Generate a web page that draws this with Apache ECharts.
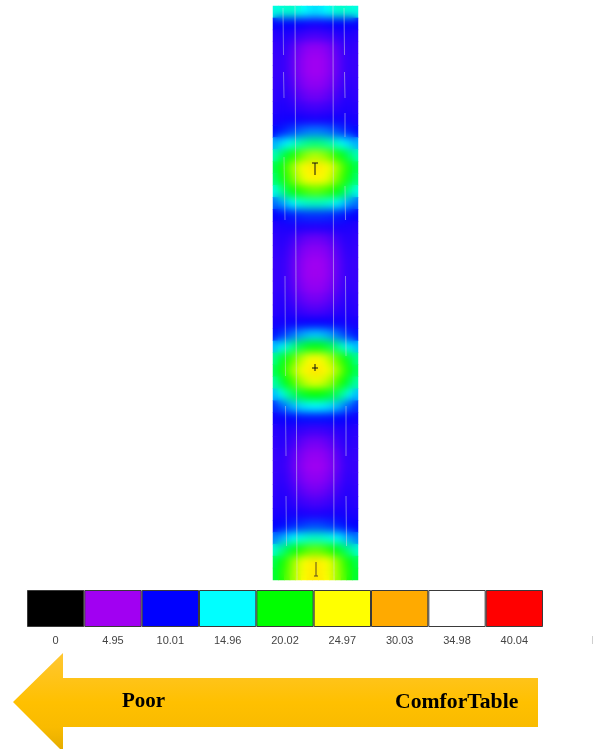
<!DOCTYPE html>
<html>
<head>
<meta charset="utf-8">
<style>html,body{margin:0;padding:0;background:#fff}#c{width:594px;height:749px}</style>
<script src="https://cdn.jsdelivr.net/npm/echarts@6/dist/echarts.min.js"></script>
</head>
<body>
<div id="c"></div>
<script>
// Colour scale legend
const scaleLabels = ['0','4.95','10.01','14.96','20.02','24.97','30.03','34.98','40.04'];
const scaleColors = ['#000000','#A100F2','#0000FF','#00FFFF','#00FF00','#FFFF00','#FFAA00','#FFFFFF','#FF0000'];
const scaleMax = 40.04;
const arrowLabels = ['Poor','ComforTable'];

// Field values, one row every 12 units down the strip, 15 columns across it
const field = [
[15.6,15.8,16,16,15.6,15,14.6,14.4,14.6,15,15.6,16,16,15.8,15.6],
[9.8,9.9,10,10,9.9,9.7,9.5,9.4,9.5,9.7,9.9,10,10,9.9,9.8],
[8.7,9,9,8.6,8.3,8,7.8,7.7,7.8,8,8.3,8.6,9,9,8.7],
[8.3,8.7,8.2,7.4,6.6,6,5.6,5.5,5.6,6,6.6,7.4,8.2,8.7,8.3],
[8.2,8.5,8,7,6.2,5.5,5.1,5,5.1,5.5,6.2,7,8,8.5,8.2],
[8.2,8.5,8,7,6.2,5.5,5.1,5,5.1,5.5,6.2,7,8,8.5,8.2],
[8.3,8.7,8.2,7.4,6.6,6,5.6,5.5,5.6,6,6.6,7.4,8.2,8.7,8.3],
[8.5,8.9,8.6,8,7.4,6.9,6.5,6.4,6.5,6.9,7.4,8,8.6,8.9,8.5],
[8.8,9.1,9,8.7,8.4,8.2,8,7.9,8,8.2,8.4,8.7,9,9.1,8.8],
[9.2,9.4,9.5,9.5,9.5,9.4,9.3,9.3,9.3,9.4,9.5,9.5,9.5,9.4,9.2],
[10.2,10.6,11,11.4,11.8,12.2,12.4,12.5,12.4,12.2,11.8,11.4,11,10.6,10.2],
[13.5,14.2,15,15.8,16.4,17,17.4,17.6,17.4,17,16.4,15.8,15,14.2,13.5],
[16.5,18,19.3,20.5,21.5,22.5,23.2,23.5,23.2,22.5,21.5,20.5,19.3,18,16.5],
[18.5,20.2,21.6,23,24.3,25.3,26,26.5,26,25.3,24.3,23,21.6,20.2,18.5],
[17.8,19.5,21,22.3,23.6,24.6,25.3,25.6,25.3,24.6,23.6,22.3,21,19.5,17.8],
[15.5,17,18.6,19.8,20.6,21.2,21.6,21.8,21.6,21.2,20.6,19.8,18.6,17,15.5],
[12.2,13,14,15,15.6,16,16.2,16.3,16.2,16,15.6,15,14,13,12.2],
[9.8,10.1,10.4,10.6,10.8,10.9,11,11,11,10.9,10.8,10.6,10.4,10.1,9.8],
[8.9,9.1,9.2,9.2,9.1,9,9,8.9,9,9,9.1,9.2,9.2,9.1,8.9],
[8.5,8.9,8.6,8.1,7.5,7,6.7,6.5,6.7,7,7.5,8.1,8.6,8.9,8.5],
[8.3,8.7,8.2,7.4,6.6,6,5.7,5.6,5.7,6,6.6,7.4,8.2,8.7,8.3],
[8.2,8.5,8,7,6.2,5.5,5.1,5,5.1,5.5,6.2,7,8,8.5,8.2],
[8.2,8.5,8,7,6.2,5.4,5.1,4.9,5.1,5.4,6.2,7,8,8.5,8.2],
[8.3,8.6,8.1,7.3,6.5,5.9,5.5,5.4,5.5,5.9,6.5,7.3,8.1,8.6,8.3],
[8.5,8.9,8.5,7.9,7.3,6.8,6.4,6.3,6.4,6.8,7.3,7.9,8.5,8.9,8.5],
[8.7,9,9,8.6,8.3,8,7.7,7.6,7.7,8,8.3,8.6,9,9,8.7],
[9.3,9.4,9.5,9.6,9.7,9.7,9.8,9.8,9.8,9.7,9.7,9.6,9.5,9.4,9.3],
[10.4,10.9,11.5,12.2,12.9,13.4,13.8,14,13.8,13.4,12.9,12.2,11.5,10.9,10.4],
[13.8,14.8,16,17.2,18.2,19,19.5,19.7,19.5,19,18.2,17.2,16,14.8,13.8],
[17.3,19,20.5,21.8,23,24,25,25.5,25,24,23,21.8,20.5,19,17.3],
[18.3,20,21.6,23,24.2,25.3,26,26.5,26,25.3,24.2,23,21.6,20,18.3],
[16.8,18.4,20,21.4,22.6,23.6,24.3,24.6,24.3,23.6,22.6,21.4,20,18.4,16.8],
[13.8,15.2,16.8,18,18.8,19.4,19.8,20,19.8,19.4,18.8,18,16.8,15.2,13.8],
[11,11.8,12.8,13.6,14.2,14.6,14.8,15,14.8,14.6,14.2,13.6,12.8,11.8,11],
[9.5,9.7,9.9,10.1,10.2,10.3,10.3,10.3,10.3,10.3,10.2,10.1,9.9,9.7,9.5],
[8.7,9,9,8.7,8.5,8.3,8.1,8,8.1,8.3,8.5,8.7,9,9,8.7],
[8.5,8.9,8.6,8,7.4,6.9,6.5,6.4,6.5,6.9,7.4,8,8.6,8.9,8.5],
[8.3,8.6,8.1,7.3,6.5,5.9,5.5,5.4,5.5,5.9,6.5,7.3,8.1,8.6,8.3],
[8.2,8.5,8,7,6.2,5.5,5.1,5,5.1,5.5,6.2,7,8,8.5,8.2],
[8.3,8.7,8.2,7.4,6.6,6,5.6,5.5,5.6,6,6.6,7.4,8.2,8.7,8.3],
[8.5,8.9,8.6,8,7.4,6.9,6.5,6.3,6.5,6.9,7.4,8,8.6,8.9,8.5],
[8.7,9,9,8.6,8.3,8,7.8,7.6,7.8,8,8.3,8.6,9,9,8.7],
[9.1,9.3,9.4,9.4,9.3,9.2,9.1,9,9.1,9.2,9.3,9.4,9.4,9.3,9.1],
[9.9,10.1,10.4,10.7,11,11.2,11.4,11.5,11.4,11.2,11,10.7,10.4,10.1,9.9],
[12.5,13.2,14,15,15.4,15.8,16.1,16.2,16.1,15.8,15.4,15,14,13.2,12.5],
[16,17.2,18.4,19.5,20.4,21.2,21.7,22,21.7,21.2,20.4,19.5,18.4,17.2,16],
[18.5,20,21.4,22.8,24,25,25.8,26.2,25.8,25,24,22.8,21.4,20,18.5],
[19,20.4,21.8,23,24.2,25.2,26,26.4,26,25.2,24.2,23,21.8,20.4,19]
];

// Pale streaks across the strip: [across, along]; null breaks a streak
const streakInnerLeft  = [[22,0],[24,574]];
const streakInnerRight = [[60,0],[61,574]];
const streakOuterLeft  = [[10,2],[10.5,49],null,[10.5,66],[11,92],null,[11,151],[12,214],null,[12,270],[12.5,370],null,[12.5,400],[13,450],null,[13,490],[13.5,540]];
const streakOuterRight = [[71,2],[71.5,49],null,[71.5,66],[72,92],null,[72,107],[72,131],null,[72,180],[72.5,214],null,[72.5,270],[73,350],null,[73,400],[73,450],null,[73,490],[73.5,540]];

// Small dark marks at the three bright centres
const markTop = [[39,157],[45,157],null,[42,157],[42,169]];
const markMid = [[39,362],[45,362],null,[42,358],[42,365]];
const markLow = [[43,556],[43,570],null,[41,570],[45,570]];

const colIdx = field[0].map((_, i) => i);
const rowIdx = field.map((_, i) => i);
const cells = [];
field.forEach((row, r) => row.forEach((v, c) => cells.push([c, r, v])));

const topLayer = 2;
function lineSeries(data, color, width) {
  return {
    type: 'line', xAxisIndex: 1, yAxisIndex: 1, data, zlevel: topLayer,
    showSymbol: false, silent: true, connectNulls: false, animation: false,
    lineStyle: { color, width }
  };
}
function heat(zlevel) {
  return {
    type: 'heatmap', xAxisIndex: 0, yAxisIndex: 0, data: cells, zlevel,
    progressive: 0, silent: true, animation: false,
    itemStyle: { borderWidth: 0 }, emphasis: { disabled: true }
  };
}

const chart = echarts.init(document.getElementById('c'), null, { renderer: 'canvas', width: 594, height: 749 });
chart.setOption({
  animation: false,
  backgroundColor: '#ffffff',
  grid: [
    { left: 273, top: 6, width: 85, height: 574 },
    { left: 27, top: 590, width: 516, height: 37 }
  ],
  xAxis: [
    { type: 'category', gridIndex: 0, data: colIdx, show: false },
    { type: 'value', gridIndex: 0, min: 0, max: 85, show: false },
    { type: 'category', gridIndex: 1, data: scaleLabels, zlevel: topLayer,
      axisLine: { show: false }, axisTick: { show: false },
      axisLabel: { interval: 0, margin: 8, fontSize: 11, fontFamily: 'Liberation Sans', color: '#444' } }
  ],
  yAxis: [
    { type: 'category', gridIndex: 0, data: rowIdx, inverse: true, show: false },
    { type: 'value', gridIndex: 0, min: 0, max: 574, inverse: true, show: false },
    { type: 'value', gridIndex: 1, min: 0, max: 1, show: false }
  ],
  visualMap: {
    show: false, min: 0, max: scaleMax, seriesIndex: [0, 1],
    dimension: 2, inRange: { color: scaleColors }
  },
  series: [
    heat(0),
    heat(1),
    lineSeries(streakInnerLeft, 'rgba(225,225,225,0.5)', 1),
    lineSeries(streakInnerRight, 'rgba(225,225,225,0.5)', 1),
    lineSeries(streakOuterLeft, 'rgba(225,225,225,0.45)', 1),
    lineSeries(streakOuterRight, 'rgba(225,225,225,0.5)', 1),
    lineSeries(markTop, '#111', 1),
    lineSeries(markMid, '#111', 1),
    lineSeries(markLow, '#5a4a20', 1),
    {
      type: 'bar', xAxisIndex: 2, yAxisIndex: 2, zlevel: topLayer, silent: true,
      barWidth: '100%',
      data: scaleColors.map(c => ({ value: 1, itemStyle: { color: c, borderColor: '#3a3a3a', borderWidth: 1 } }))
    }
  ],
  graphic: [
    {
      type: 'polygon', zlevel: topLayer, silent: true,
      shape: { points: [[13,702],[63,653],[63,678],[538,678],[538,727],[63,727],[63,752]] },
      style: {
        fill: new echarts.graphic.LinearGradient(0, 0, 0, 1, [
          { offset: 0, color: '#FFC733' },
          { offset: 0.5, color: '#FFC000' },
          { offset: 0.75, color: '#F9BB00' },
          { offset: 1, color: '#E3AB00' }
        ])
      }
    },
    { type: 'text', zlevel: topLayer, silent: true, left: 122, top: 691,
      style: { text: arrowLabels[0], font: 'bold 21px "Liberation Serif"', fill: '#000' } },
    { type: 'text', zlevel: topLayer, silent: true, left: 395, top: 691,
      style: { text: arrowLabels[1], font: 'bold 21.7px "Liberation Serif"', fill: '#000' } },
    { type: 'rect', zlevel: topLayer, silent: true, shape: { x: 592, y: 636, width: 1, height: 8 },
      style: { fill: '#cfcfcf' } }
  ]
});

// Soften the upper copy of the field so the cells read as the smooth contour of the original
const canvases = document.querySelectorAll('#c canvas');
if (canvases[1]) {
  canvases[1].style.filter = 'blur(4px)';
  canvases[1].style.clipPath = 'inset(6px 236px 169px 273px)';
}
</script>
</body>
</html>
